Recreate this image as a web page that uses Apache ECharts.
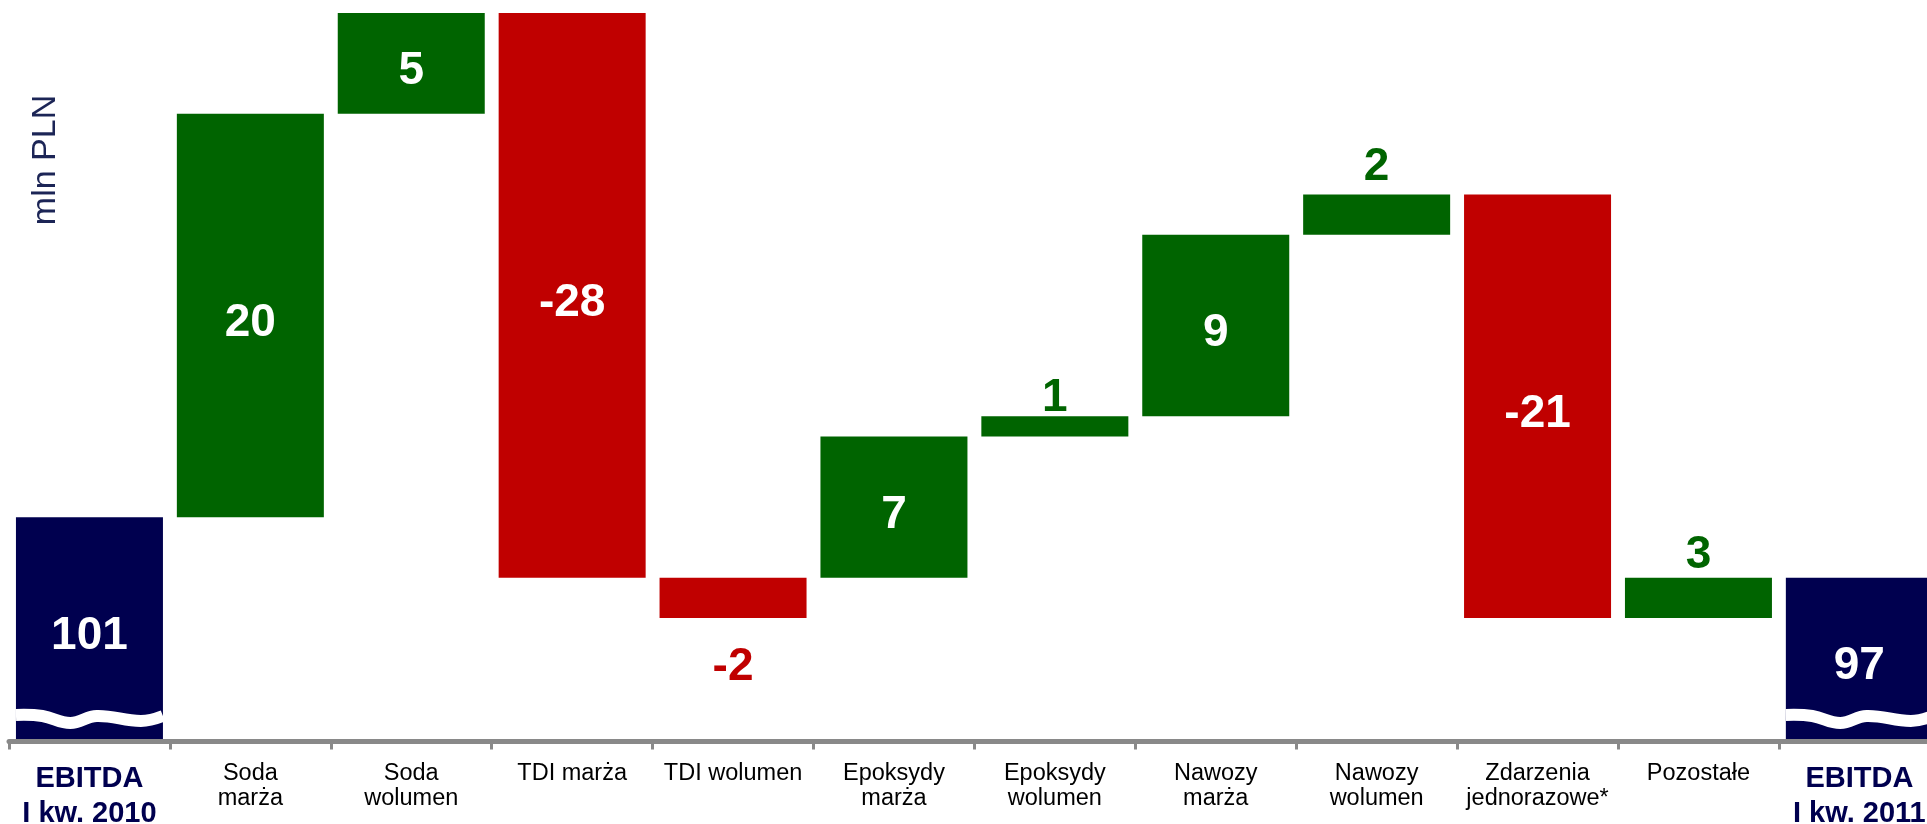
<!DOCTYPE html>
<html>
<head>
<meta charset="utf-8">
<title>EBITDA I kw. 2010 - I kw. 2011</title>
<script src="https://cdn.jsdelivr.net/npm/echarts@6/dist/echarts.min.js"></script>
<style>
  html, body { margin: 0; padding: 0; background: #fff; }
  #chart { width: 1927px; height: 824px; }
</style>
</head>
<body>
<div id="chart"></div>
<script>
// kategorie osi X
const categories = [
    'EBITDA\nI kw. 2010', 'Soda\nmarża', 'Soda\nwolumen', 'TDI marża', 'TDI wolumen',
    'Epoksydy\nmarża', 'Epoksydy\nwolumen', 'Nawozy\nmarża', 'Nawozy\nwolumen',
    'Zdarzenia\njednorazowe*', 'Pozostałe', 'EBITDA\nI kw. 2011'
];

// dolna i górna krawędź słupków (mln PLN)
const barLow  = [90, 101, 121, 98, 96, 98, 105, 106, 115, 96, 96, 90];
const barHigh = [101, 121, 126, 126, 98, 105, 106, 115, 117, 117, 98, 98];

// etykiety wartości
const valueLabels = ['101', '20', '5', '-28', '-2', '7', '1', '9', '2', '-21', '3', '97'];

// rodzaj słupka: suma / wzrost / spadek
const barKind = ['total', 'up', 'up', 'down', 'down', 'up', 'up', 'up', 'up', 'down', 'up', 'total'];

// zakres osi Y (oś przerwana)
const yMin = 90;
const yMax = 126;

const COLORS = { total: '#00004f', up: '#006400', down: '#c00000' };
const FONT = '"Liberation Sans", Arial, sans-serif';
const BAR_W = 147;

// odstęp etykiet nad / pod małymi słupkami
const outsideGap = { 4: 18, 6: 3, 8: 12, 10: 7 };

const chart = echarts.init(document.getElementById('chart'), null, { renderer: 'canvas' });

// słupki widoczne: różnica między krawędziami
const deltaData = barHigh.map((hi, i) => {
    const kind = barKind[i];
    const small = hi - barLow[i] < 3;
    let label;
    if (!small) {
        label = { show: true, position: 'inside', color: '#fff' };
    } else if (kind === 'down') {
        label = { show: true, position: 'bottom', distance: outsideGap[i] ?? 15, color: COLORS.down };
    } else {
        label = { show: true, position: 'top', distance: outsideGap[i] ?? 7, color: COLORS.up };
    }
    return {
        value: hi - barLow[i],
        itemStyle: { color: COLORS[kind] },
        label: label
    };
});

// przerwanie osi na słupkach sumarycznych
const breakData = barKind
    .map((k, i) => (k === 'total' ? [i, yMin] : null))
    .filter(d => d !== null);

// kształt fali (względem szerokości słupka i osi)
const wave = [[0, -24], [0.18, -23], [0.37, -16], [0.55, -23], [0.85, -18], [1, -23]];

const option = {
    animation: false,
    backgroundColor: '#fff',
    textStyle: { fontFamily: FONT },
    grid: {
        left: 9,
        right: -12.8,
        top: 13,
        bottom: 85,
        containLabel: false,
        outerBoundsMode: 'none'
    },
    xAxis: {
        type: 'category',
        data: categories,
        offset: 2.5,
        axisLine: { lineStyle: { color: '#898989', width: 5 } },
        axisTick: { show: true, length: 8, lineStyle: { color: '#898989', width: 3 } },
        axisLabel: {
            interval: 0,
            hideOverlap: false,
            margin: 20,
            color: '#000',
            fontSize: 23.5,
            lineHeight: 25,
            fontFamily: FONT,
            formatter: (val, idx) => {
                if (barKind[idx] === 'total') {
                    return val.split('\n').map(s => '{e|' + s + '}').join('\n');
                }
                return val;
            },
            rich: {
                e: { fontSize: 29, fontWeight: 'bold', color: '#00004f', lineHeight: 35, fontFamily: FONT }
            }
        }
    },
    yAxis: {
        type: 'value',
        min: yMin,
        max: yMax,
        show: false
    },
    graphic: [{
        type: 'text',
        x: 46,
        y: 160,
        rotation: Math.PI / 2,
        style: {
            text: 'mln PLN',
            font: '34px ' + FONT,
            fill: '#1c2556',
            align: 'center',
            verticalAlign: 'middle'
        }
    }],
    series: [
        {
            name: 'base',
            type: 'bar',
            stack: 'w',
            barWidth: BAR_W,
            silent: true,
            itemStyle: { color: 'transparent' },
            data: barLow
        },
        {
            name: 'delta',
            type: 'bar',
            stack: 'w',
            barWidth: BAR_W,
            label: {
                fontSize: 46,
                fontWeight: 'bold',
                fontFamily: FONT,
                offset: [0, 8],
                formatter: p => valueLabels[p.dataIndex]
            },
            data: deltaData
        },
        {
            name: 'break',
            type: 'custom',
            z: 5,
            silent: true,
            data: breakData,
            renderItem: (params, api) => {
                const p = api.coord([api.value(0), api.value(1)]);
                const x0 = p[0] - BAR_W / 2;
                return {
                    type: 'polyline',
                    shape: {
                        points: wave.map(w => [x0 + w[0] * BAR_W, p[1] + w[1]]),
                        smooth: 0.4
                    },
                    style: { stroke: '#fff', lineWidth: 12, fill: null, lineCap: 'butt' }
                };
            }
        }
    ]
};

chart.setOption(option);

window.addEventListener('resize', () => chart.resize());
</script>
</body>
</html>
